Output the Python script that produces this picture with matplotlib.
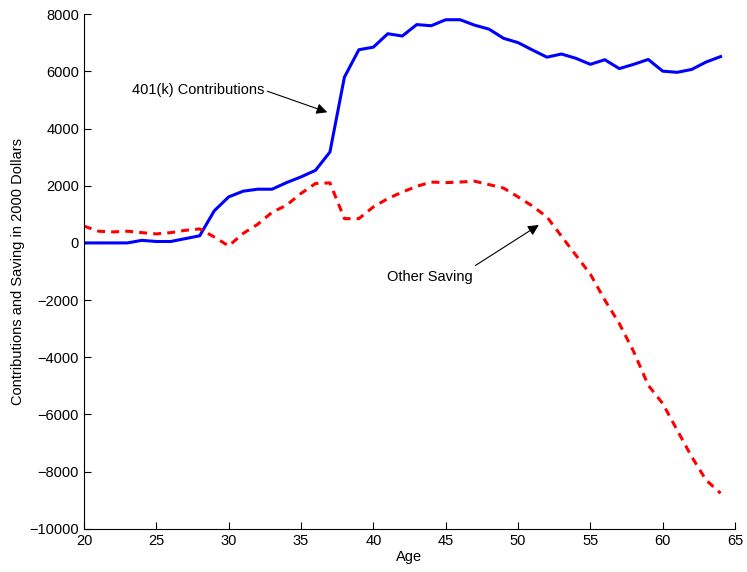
import matplotlib
matplotlib.use("Agg")
import matplotlib.pyplot as plt
import numpy as np

plt.rcParams['font.family'] = ['Liberation Sans', 'DejaVu Sans']

age = np.arange(20, 65)
contrib = [0, 0, 0, 0, 90, 50, 50, 150, 250, 1120, 1610, 1810, 1880, 1880, 2110,
           2310, 2540, 3180, 5800, 6760, 6850, 7320, 7240, 7640, 7600, 7810, 7810,
           7620, 7480, 7160, 7010, 6750, 6500, 6610, 6460, 6250, 6410, 6100, 6250,
           6420, 6010, 5970, 6070, 6330, 6520]
other = [590, 410, 385, 410, 360, 315, 360, 440, 490, 210, -105, 330, 650, 1070,
         1320, 1730, 2080, 2100, 850, 850, 1260, 1550, 1780, 1980, 2130, 2110, 2130,
         2160, 2040, 1920, 1610, 1290, 910, 235, -430, -1095, -2000, -2820, -3810,
         -4980, -5620, -6550, -7480, -8300, -8760]

fig = plt.figure(figsize=(7.47, 5.72), dpi=100)
ax = fig.add_axes([0.1124, 0.0757, 0.8716, 0.8993])

ax.plot(age, contrib, color='#0000ff', lw=2.2)
ax.plot(age, other, color='#ff0000', lw=2.2, ls=(0, (2.6, 2.0)))

ax.set_xlim(20, 65)
ax.set_ylim(-10000, 8000)
ax.set_xticks(range(20, 66, 5))
ax.set_yticks(range(-10000, 8001, 2000))

ax.spines['top'].set_visible(False)
ax.spines['right'].set_visible(False)
ax.tick_params(direction='in', length=5, labelsize=10.5, top=False, right=False)

ax.set_xlabel("Age", fontsize=10.5, labelpad=2)
ax.set_ylabel("Contributions and Saving in 2000 Dollars", fontsize=10.5, labelpad=3)

arrow = dict(arrowstyle='-|>', color='black', lw=0.8, mutation_scale=16)
ax.annotate('', xy=(37.0, 4540), xytext=(32.5, 5340), arrowprops=arrow)
ax.text(32.5, 5340, "401(k) Contributions", ha='right', va='center', fontsize=10.5)
ax.annotate('', xy=(51.6, 680), xytext=(46.9, -840), arrowprops=arrow)
ax.text(46.9, -1200, "Other Saving", ha='right', va='center', fontsize=10.5)

fig.savefig("out.png", dpi=100)
